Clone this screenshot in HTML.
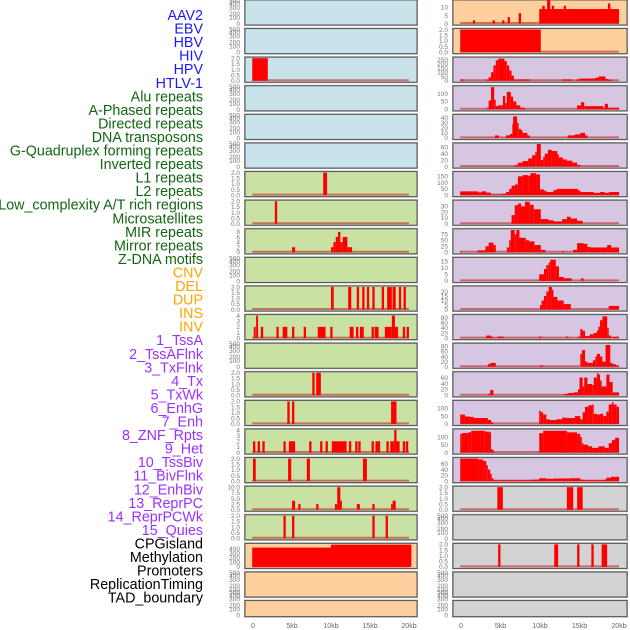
<!DOCTYPE html>
<html><head><meta charset="utf-8"><style>
html,body{margin:0;padding:0;background:#fff;}
svg{display:block;font-family:"Liberation Sans",sans-serif;}
</style></head><body>
<svg id="chart" width="630" height="630" viewBox="0 0 630 630" xmlns="http://www.w3.org/2000/svg"></svg>
<script>
const labelNames = ["AAV2","EBV","HBV","HIV","HPV","HTLV-1","Alu repeats","A-Phased repeats","Directed repeats","DNA transposons","G-Quadruplex forming repeats","Inverted repeats","L1 repeats","L2 repeats","Low_complexity A/T rich regions","Microsatellites","MIR repeats","Mirror repeats","Z-DNA motifs","CNV","DEL","DUP","INS","INV","1_TssA","2_TssAFlnk","3_TxFlnk","4_Tx","5_TxWk","6_EnhG","7_Enh","8_ZNF_Rpts","9_Het","10_TssBiv","11_BivFlnk","12_EnhBiv","13_ReprPC","14_ReprPCWk","15_Quies","CPGisland","Methylation","Promoters","ReplicationTiming","TAD_boundary"];
const labelGroups = [6,13,5,15,5];
const groupColors = ["#1a1aff","#116611","#ffa500","#9b30ff","#000000"];
const xTicks = [0,5000,10000,15000,20000];
const xTickLabels = ["0","5kb","10kb","15kb","20kb"];

const leftBg = ["#c9e3eb","#c9e3eb","#c9e3eb","#c9e3eb","#c9e3eb","#c9e3eb","#c9e1a3","#c9e1a3","#c9e1a3","#c9e1a3","#c9e1a3","#c9e1a3","#c9e1a3","#c9e1a3","#c9e1a3","#c9e1a3","#c9e1a3","#c9e1a3","#c9e1a3","#fed09e","#fed09e","#fed09e"];
const rightBg = ["#fed09e","#fed09e","#d7c6e2","#d7c6e2","#d7c6e2","#d7c6e2","#d7c6e2","#d7c6e2","#d7c6e2","#d7c6e2","#d7c6e2","#d7c6e2","#d7c6e2","#d7c6e2","#d7c6e2","#d7c6e2","#d7c6e2","#d3d3d3","#d3d3d3","#d3d3d3","#d3d3d3","#d3d3d3"];

const L2 = [[-0.1,1.9,2]];
const L6 = [[9.0,9.5,2]];
const L7 = [[2.8,3.1,2]];
const L8 = [[5.0,5.4,2],[10.0,10.3,2],[10.3,10.6,4],[10.6,10.9,6],[10.9,11.2,8],[11.2,11.5,4],[11.5,12.1,6],[12.1,12.4,2],[12.4,12.7,2]];
const L10 = [[10.0,10.35,2],[12.2,12.6,2],[13.3,13.6,2],[14.0,14.3,2],[14.6,14.9,2],[15.3,15.6,2],[16.5,16.8,2],[17.2,17.8,2],[17.9,18.3,2],[18.7,19.0,2],[19.3,19.6,2]];
const L11 = [[0.1,0.35,2],[0.4,0.65,4],[1.0,1.3,2],[3.0,3.3,2],[3.8,4.4,2],[5.0,5.3,2],[6.5,6.8,2],[8.3,9.3,2],[9.9,10.2,2],[12.4,12.9,2],[13.2,13.5,2],[13.7,14.2,2],[15.2,15.5,2],[15.6,16.1,2],[16.9,17.8,2],[17.8,18.2,4],[18.2,18.6,2],[19.2,19.5,2],[19.7,20.0,2]];
const L13 = [[7.6,7.9,2],[8.1,8.7,2]];
const L14 = [[4.4,4.7,2],[5.0,5.3,2],[17.7,18.4,2]];
const L15 = [[0.0,0.3,2],[0.6,0.9,2],[1.2,1.5,2],[3.9,4.2,2],[4.6,5.4,2],[7.2,7.5,2],[8.6,8.9,2],[9.3,9.6,2],[10.1,12.0,2],[12.3,12.6,2],[13.1,13.4,2],[13.5,13.8,2],[15.2,15.5,2],[15.7,16.3,2],[17.1,17.4,2],[17.6,18.1,2],[18.1,18.4,4],[18.4,18.8,2],[19.2,19.5,2],[19.6,19.9,2]];
const L16 = [[0.0,0.35,2],[4.5,4.9,2],[6.9,7.3,2],[14.1,14.6,2]];
const L17 = [[5.0,5.4,4],[5.8,6.1,2.5],[8.1,8.4,2.5],[10.5,10.8,2.5],[10.8,11.2,10],[11.2,11.4,4],[13.3,13.7,2.5],[15.3,15.6,2.5],[17.7,17.9,2.5],[17.9,18.3,4]];
const L18 = [[3.9,4.2,2],[5.0,5.3,2],[15.3,15.6,2],[17.0,17.3,2]];
const L19 = [[-0.1,10.0,420],[10.0,20.3,485]];

const R0 = [[1.5,1.8,2],[4.0,4.3,2],[5.2,5.5,2],[5.9,6.2,4],[7.3,7.6,6.5],[9.9,20.0,9],[10.3,10.6,11],[10.9,11.3,15],[11.5,11.8,11],[13.0,13.3,11],[18.6,18.9,12.5]];
const R1 = [[-0.1,10.1,2]];
const R2 = [[-0.1,0.3,15],[3.2,3.5,15],[3.5,3.8,40],[3.8,4.1,100],[4.1,4.4,180],[4.4,4.7,240],[4.7,5.5,260],[5.5,5.8,230],[5.8,6.1,180],[6.1,6.4,120],[6.4,6.7,60],[6.7,8.8,15],[12.8,14.0,15],[14.6,15.0,15],[15.0,17.0,25],[17.0,17.4,35],[17.4,18.3,50],[18.3,18.7,20],[18.7,19.2,10]];
const R3 = [[3.3,3.5,10],[3.5,3.8,55],[3.8,4.2,140],[4.2,4.4,60],[4.4,4.7,20],[4.7,5.3,25],[5.3,5.6,85],[5.6,5.8,40],[5.8,6.3,110],[6.3,6.6,80],[6.6,7.0,50],[7.0,7.5,25],[7.5,8.1,10],[14.7,15.2,25],[15.2,15.6,45],[15.6,18.0,20],[18.0,18.2,10],[18.2,18.6,35],[18.6,20.0,10]];
const R4 = [[4.3,4.8,5],[5.7,6.2,5],[6.2,6.5,8],[6.5,6.6,28],[6.6,7.1,43],[7.1,7.3,30],[7.3,7.6,18],[7.6,7.8,15],[7.8,8.4,10],[8.4,8.7,5],[13.5,14.4,5],[14.4,15.1,7],[15.1,15.7,10],[15.7,16.0,5]];
const R5 = [[6.8,7.2,5],[7.2,7.8,12],[7.8,8.5,17],[8.5,9.0,25],[9.0,9.4,35],[9.4,9.6,45],[9.6,10.1,70],[10.1,10.4,20],[10.4,10.6,30],[10.6,11.0,40],[11.0,11.5,52],[11.5,12.2,48],[12.2,12.3,38],[12.3,12.9,28],[12.9,13.4,22],[13.4,14.1,18],[14.1,14.7,12],[14.7,15.1,5]];
const R6 = [[-0.1,2.2,30],[2.2,2.6,22],[2.6,3.2,30],[3.2,3.8,20],[3.8,5.1,5],[5.1,5.7,10],[5.7,6.1,25],[6.1,6.4,50],[6.4,6.8,75],[6.8,7.2,85],[7.2,7.8,150],[7.8,8.5,160],[8.5,8.8,155],[8.8,9.5,175],[9.5,10.0,165],[10.0,10.5,45],[10.5,10.8,35],[10.8,11.7,25],[11.7,12.1,40],[12.1,14.8,50],[14.8,15.1,38],[15.1,16.8,25],[16.8,17.6,18],[17.6,18.2,25],[18.2,18.7,18],[18.7,20.0,25]];
const R7 = [[6.4,6.8,15],[6.8,7.2,32],[7.2,7.6,35],[7.6,8.1,30],[8.1,8.7,38],[8.7,9.2,33],[9.2,10.1,25],[10.1,11.1,8],[11.1,11.7,6],[11.7,12.8,4],[12.8,13.4,8],[13.4,13.9,12],[13.9,14.7,9],[14.7,15.4,5]];
const R8 = [[-0.1,0.1,5],[2.1,3.1,8],[3.1,3.5,25],[3.5,4.1,40],[4.1,4.4,30],[5.8,6.1,20],[6.1,6.3,50],[6.3,6.8,92],[6.8,7.0,75],[7.0,7.4,92],[7.4,8.2,60],[8.2,8.6,50],[8.6,9.3,45],[9.3,10.1,30],[10.1,10.7,10],[12.8,13.0,5],[14.2,14.7,10],[14.7,15.5,38],[15.5,16.0,35],[16.0,16.4,22],[16.4,18.5,20],[18.5,19.0,30],[19.0,20.0,20]];
const R9 = [[9.9,10.5,5],[10.5,10.8,9],[10.8,11.1,12],[11.1,11.3,14],[11.3,12.0,16],[12.0,12.4,11],[12.4,13.0,3],[13.0,14.0,2],[15.2,15.5,2]];
const R10 = [[10.0,10.2,5],[10.2,10.5,10],[10.5,10.8,15],[10.8,11.1,20],[11.1,11.5,25],[11.5,11.7,22],[11.7,12.2,14],[12.2,13.0,10],[13.0,13.9,6],[18.7,20.0,4]];
const R11 = [[3.2,3.8,10],[3.8,4.1,5],[4.6,5.4,6],[9.9,10.2,6],[13.3,13.6,6],[14.8,15.1,6],[15.1,15.4,35],[15.4,15.7,28],[15.7,16.3,8],[16.3,16.8,15],[16.8,17.2,20],[17.2,17.4,30],[17.4,17.6,45],[17.6,17.9,70],[17.9,18.5,85],[18.5,18.7,40],[18.7,19.0,10],[19.2,20.0,5]];
const R12 = [[3.4,3.7,10],[3.7,4.4,15],[10.0,10.4,5],[15.1,15.3,50],[15.3,15.7,65],[15.7,16.0,20],[16.0,16.7,15],[16.7,17.0,25],[17.0,17.2,40],[17.2,17.6,50],[17.6,17.9,40],[17.9,18.3,20],[18.3,18.9,85],[18.9,19.2,15],[19.2,19.6,10],[19.6,20.0,5]];
const R13 = [[3.4,3.7,5],[3.7,4.1,18],[13.1,13.6,5],[13.6,14.3,8],[14.3,14.8,10],[14.8,15.0,20],[15.0,15.4,60],[15.4,15.6,30],[15.6,16.0,60],[16.0,16.6,38],[16.6,16.8,35],[16.8,17.2,60],[17.2,17.4,75],[17.4,17.6,70],[17.6,17.8,50],[17.8,18.4,30],[18.4,18.8,70],[18.8,19.2,45],[19.2,20.0,10]];
const R14 = [[-0.1,0.5,60],[0.5,1.1,48],[1.1,1.6,45],[1.6,3.4,38],[3.4,3.8,25],[3.8,4.1,10],[9.9,10.1,85],[10.1,10.4,75],[10.4,10.8,60],[10.8,11.2,30],[11.2,12.1,25],[12.1,12.8,30],[12.8,13.4,40],[13.4,14.4,38],[14.4,15.1,50],[15.1,15.4,30],[15.4,15.7,75],[15.7,16.1,110],[16.1,16.6,120],[16.6,16.8,125],[16.8,17.2,65],[17.2,17.6,60],[17.6,18.0,65],[18.0,18.4,50],[18.4,18.7,80],[18.7,19.1,125],[19.1,19.3,140],[19.3,19.7,125],[19.7,20.0,110]];
const R15 = [[-0.1,0.1,120],[0.1,0.9,125],[0.9,1.3,130],[1.3,3.0,140],[3.0,3.6,135],[3.6,3.8,130],[3.8,4.1,20],[4.1,4.3,5],[9.9,10.4,125],[10.4,13.4,140],[13.4,14.7,130],[14.7,15.1,120],[15.1,15.3,100],[15.3,15.5,60],[15.5,16.1,50],[16.1,16.6,40],[16.6,17.4,30],[17.4,18.2,40],[18.2,18.7,30],[18.7,19.1,60],[19.1,19.5,80],[19.5,20.0,95]];
const R16 = [[-0.1,2.2,78],[2.2,2.8,75],[2.8,3.2,70],[3.2,3.4,55],[3.4,3.7,40],[3.7,3.8,25],[3.8,4.1,10],[4.1,8.9,3],[8.9,9.9,5],[9.9,10.8,10],[10.8,11.7,8],[11.7,13.8,9],[13.8,15.1,10],[15.1,15.5,5],[15.5,18.0,3],[18.0,18.4,5],[18.4,19.0,12],[19.0,20.0,15]];
const R17 = [[4.6,5.3,2],[13.4,14.2,2],[14.7,15.4,2]];
const R19 = [[4.7,5.0,2],[11.8,12.3,2],[14.7,15.0,2],[16.5,16.8,2],[17.8,18.5,2]];

const T2 = [0,0.5,1,1.5,2];
const T4 = [0,1,2,3,4];
const T8 = [0,2,4,6,8];
const T10 = [0,2.5,5,7.5,10];
const TE = [0,100,200,300,400,500];

const leftPanels = [[null],[null],[L2,2,T2,1],[null],[null],[null],[L6,2,T2,1],[L7,2,T2,1],[L8,8.8,T8,0],[null],[L10,2,T2,1],[L11,4,T4,0],[null],[L13,2,T2,1],[L14,2,T2,1],[L15,4,T4,0],[L16,2,T2,1],[L17,10,T10,1],[L18,2,T2,1],[L19,490,[0,100,200,300,400],0],[null],[null]];
const rightPanels = [[R0,14,[0,5,10],0],[R1,2,T2,1],[R2,265,[0,50,100,150,200,250],0],[R3,142,[0,50,100],0],[R4,45,[0,10,20,30,40],0],[R5,70,[0,20,40,60],0],[R6,180,[0,50,100,150],0],[R7,39,[0,10,20,30],0],[R8,93,[0,25,50,75],0],[R9,17,[0,5,10,15],0],[R10,25,[0,5,10,15,20],0],[R11,88,[0,20,40,60,80],0],[R12,88,[0,20,40,60,80],0],[R13,76,[0,20,40,60],0],[R14,145,[0,50,100],0],[R15,145,[0,50,100],0],[R16,78,[0,20,40,60],0],[R17,2,T2,1],[null],[R19,2,T2,1],[null],[null]];

const svg = document.getElementById('chart');
const NS = "http://www.w3.org/2000/svg";
function mk(tag, attrs, parent){const e=document.createElementNS(NS,tag);for(const k in attrs)e.setAttribute(k,attrs[k]);(parent||svg).appendChild(e);return e;}

let li=0;
labelGroups.forEach((n,g)=>{for(let k=0;k<n;k++){
  const t=mk('text',{x:203,y:(15+li*13.55+5).toFixed(1),'text-anchor':'end','font-size':'14.3',fill:groupColors[g]});
  t.textContent=labelNames[li];
  
  
  li++;}});

function rowTop(i){return i*28.6;}
function rowH(i){return i===21?16:25;}

function drawPanel(col,i,spec,bg){
  const px = col===0?245:453, pw = col===0?172:174;
  const x0 = col===0?253:461, x20 = col===0?409:619;
  const xs = kb => x0 + kb*(x20-x0)/20;
  const top=rowTop(i), h=rowH(i);
  const g=mk('g',{});
  
  
  mk('rect',{x:px-0.5,y:top-0.5,width:pw+1,height:h+1,fill:'none',stroke:'#aaa','stroke-width':1},g);
  mk('rect',{x:px,y:top,width:pw,height:h,fill:bg,stroke:'#555','stroke-width':1},g);
  const tx = px-5;
  if(!spec[0]){
    const offs=[h-1,h-7,h-11,h-17,h-21,h-24];
    TE.forEach((v,k)=>{const t=mk('text',{x:tx,y:(top+offs[k]+2).toFixed(1),'text-anchor':'end','font-size':'6.5',fill:'#777'},g);t.textContent=v;
      
      });
    return;
  }
  const [bars,ymax,ticks,dec]=spec;
  const ys = v => top+h-1.5 - v/ymax*(h-2.5);
  ticks.forEach(v=>{const t=mk('text',{x:tx,y:(ys(v)+2.3).toFixed(1),'text-anchor':'end','font-size':'6.5',fill:'#777'},g);t.textContent=v.toFixed(dec);
    
    });
  mk('line',{x1:xs(-0.1),x2:xs(20),y1:ys(0)-0.5,y2:ys(0)-0.5,stroke:'rgba(190,40,40,0.6)','stroke-width':2},g);
  bars.forEach(b=>{
    const r=mk('rect',{x:xs(b[0]).toFixed(2),y:ys(b[2]).toFixed(2),width:Math.max(1.5,xs(b[1])-xs(b[0])).toFixed(2),height:(ys(0)-ys(b[2])).toFixed(2),fill:'#ff0000'},g);
    
    
  });
}
leftPanels.forEach((s,i)=>drawPanel(0,i,s,leftBg[i]));
rightPanels.forEach((s,i)=>drawPanel(1,i,s,rightBg[i]));

[[253,409],[461,619]].forEach((c,ci)=>{
  xTicks.forEach((v,k)=>{const t=mk('text',{x:(c[0]+v/20000*(c[1]-c[0])).toFixed(1),y:628,'text-anchor':'middle','font-size':'7',fill:'#666'});
    t.textContent=xTickLabels[k];
    
    });
});
</script>
</body></html>
